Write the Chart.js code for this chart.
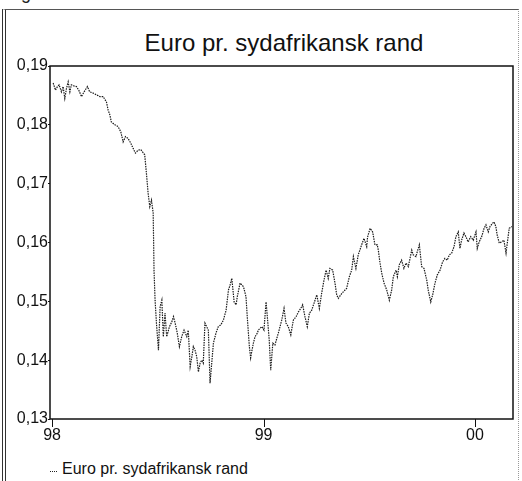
<!DOCTYPE html>
<html>
<head>
<meta charset="utf-8">
<script src="https://cdn.jsdelivr.net/npm/chart.js@4.4.1/dist/chart.umd.min.js"></script>
<style>
  html, body { margin: 0; padding: 0; background: #fff; }
  body { width: 522px; height: 481px; position: relative; overflow: hidden; font-family: "Liberation Sans", Arial, sans-serif; }
  #frame { position: absolute; left: 2px; top: 9px; width: 512px; height: 480px;
           border-left: 4px double #333; border-top: 1px solid #555; border-right: 1px dotted #999; }
  #cut { position: absolute; left: 21px; top: -17px; font-size: 18px; color: #222; }
  #title { position: absolute; left: 0; width: 568px; top: 29px; text-align: center; font-size: 24px; color: #111; }
  #legend { position: absolute; left: 50px; top: 460px; font-size: 16px; color: #111; }
  #legend .mark { display: inline-block; width: 7px; border-top: 1px dotted #222; vertical-align: middle; margin-right: 5px; position: relative; top: 2px; }
  canvas { position: absolute; left: 0; top: 0; }
</style>
</head>
<body>
<div id="frame"></div>
<div id="cut">g</div>
<div id="title">Euro pr. sydafrikansk rand</div>
<div id="legend"><span class="mark"></span>Euro pr. sydafrikansk rand</div>
<canvas id="chart" width="522" height="481"></canvas>
<script>
// dates as decimal years (98 = 1998)
const dates = [
  1998.005, 1998.016, 1998.025, 1998.033, 1998.044, 1998.052, 1998.060, 1998.068, 1998.076, 1998.084,
  1998.091, 1998.104, 1998.115, 1998.126, 1998.139, 1998.151, 1998.167, 1998.178, 1998.194, 1998.210,
  1998.226, 1998.241, 1998.257, 1998.265, 1998.273, 1998.280, 1998.297, 1998.312, 1998.325, 1998.336,
  1998.347, 1998.359, 1998.372, 1998.383, 1998.394, 1998.407, 1998.419, 1998.438, 1998.446, 1998.454,
  1998.462, 1998.470, 1998.478, 1998.480, 1998.482, 1998.487, 1998.494, 1998.503, 1998.511, 1998.519,
  1998.526, 1998.534, 1998.542, 1998.555, 1998.566, 1998.574, 1998.582, 1998.592, 1998.602, 1998.613,
  1998.624, 1998.637, 1998.644, 1998.653, 1998.661, 1998.668, 1998.676, 1998.684, 1998.692, 1998.700,
  1998.708, 1998.715, 1998.723, 1998.731, 1998.739, 1998.747, 1998.755, 1998.763, 1998.775, 1998.786,
  1998.798, 1998.810, 1998.823, 1998.834, 1998.842, 1998.850, 1998.861, 1998.870, 1998.876, 1998.889,
  1998.905, 1998.917, 1998.923, 1998.933, 1998.939, 1998.944, 1998.952, 1998.960, 1998.971, 1998.975,
  1998.992, 1999.002, 1999.012, 1999.018, 1999.027, 1999.034, 1999.044, 1999.054, 1999.070, 1999.086,
  1999.097, 1999.106, 1999.117, 1999.129, 1999.141, 1999.154, 1999.165, 1999.176, 1999.185, 1999.196,
  1999.207, 1999.217, 1999.228, 1999.239, 1999.252, 1999.264, 1999.275, 1999.286, 1999.296, 1999.306,
  1999.314, 1999.327, 1999.338, 1999.346, 1999.354, 1999.365, 1999.377, 1999.393, 1999.406, 1999.417,
  1999.425, 1999.437, 1999.448, 1999.464, 1999.475, 1999.488, 1999.492, 1999.504, 1999.516, 1999.527,
  1999.538, 1999.543, 1999.551, 1999.559, 1999.570, 1999.583, 1999.595, 1999.606, 1999.614, 1999.627,
  1999.633, 1999.642, 1999.653, 1999.664, 1999.674, 1999.685, 1999.693, 1999.701, 1999.708, 1999.721,
  1999.727, 1999.737, 1999.748, 1999.759, 1999.772, 1999.779, 1999.791, 1999.800, 1999.811, 1999.822,
  1999.835, 1999.847, 1999.858, 1999.869, 1999.879, 1999.890, 1999.901, 1999.910, 1999.921, 1999.929,
  1999.937, 1999.948, 1999.957, 1999.968, 1999.980, 1999.992, 2000.005, 2000.011, 2000.020, 2000.032,
  2000.043, 2000.052, 2000.063, 2000.071, 2000.084, 2000.090, 2000.099, 2000.105, 2000.115, 2000.126,
  2000.137, 2000.147, 2000.153, 2000.162, 2000.174
];
const rates = [
  0.1871, 0.1859, 0.1865, 0.1868, 0.1856, 0.1865, 0.1845, 0.1862, 0.1873, 0.1856,
  0.1868, 0.1866, 0.1865, 0.1859, 0.1848, 0.1856, 0.1865, 0.1856, 0.1854, 0.1851,
  0.1848, 0.1848, 0.1839, 0.1825, 0.1817, 0.1805, 0.1800, 0.1797, 0.1788, 0.1771,
  0.1780, 0.1777, 0.1769, 0.1760, 0.1752, 0.1757, 0.1758, 0.1749, 0.1718, 0.1684,
  0.1661, 0.1672, 0.1650, 0.1604, 0.1553, 0.1502, 0.1460, 0.1417, 0.1491, 0.1502,
  0.1440, 0.1480, 0.1440, 0.1457, 0.1465, 0.1474, 0.1463, 0.1446, 0.1423, 0.1440,
  0.1451, 0.1440, 0.1451, 0.1389, 0.1406, 0.1423, 0.1417, 0.1406, 0.1380, 0.1395,
  0.1400, 0.1395, 0.1463, 0.1457, 0.1451, 0.1361, 0.1395, 0.1429, 0.1446, 0.1457,
  0.1460, 0.1468, 0.1485, 0.1519, 0.1528, 0.1539, 0.1499, 0.1494, 0.1508, 0.1531,
  0.1525, 0.1508, 0.1474, 0.1423, 0.1404, 0.1414, 0.1429, 0.1440, 0.1446, 0.1451,
  0.1457, 0.1451, 0.1499, 0.1474, 0.1434, 0.1383, 0.1429, 0.1426, 0.1446, 0.1468,
  0.1488, 0.1463, 0.1457, 0.1443, 0.1468, 0.1474, 0.1482, 0.1488, 0.1494, 0.1474,
  0.1457, 0.1480, 0.1485, 0.1497, 0.1511, 0.1488, 0.1514, 0.1536, 0.1553, 0.1539,
  0.1556, 0.1553, 0.1531, 0.1511, 0.1505, 0.1511, 0.1516, 0.1522, 0.1542, 0.1553,
  0.1576, 0.1556, 0.1579, 0.1596, 0.1607, 0.1593, 0.1609, 0.1624, 0.1618, 0.1596,
  0.1596, 0.1587, 0.1565, 0.1548, 0.1531, 0.1519, 0.1502, 0.1519, 0.1542, 0.1553,
  0.1542, 0.1562, 0.1570, 0.1556, 0.1565, 0.1559, 0.1573, 0.1587, 0.1579, 0.1576,
  0.1584, 0.1596, 0.1559, 0.1556, 0.1536, 0.1519, 0.1499, 0.1511, 0.1531, 0.1545,
  0.1553, 0.1567, 0.1573, 0.1570, 0.1579, 0.1582, 0.1593, 0.1610, 0.1618, 0.1590,
  0.1604, 0.1616, 0.1610, 0.1601, 0.1610, 0.1604, 0.1618, 0.1590, 0.1601, 0.1610,
  0.1624, 0.1630, 0.1618, 0.1627, 0.1633, 0.1635, 0.1627, 0.1613, 0.1599, 0.1601,
  0.1604, 0.1582, 0.1599, 0.1624, 0.1627
];
const yearTicks = [1998, 1999, 2000];
const rateTicks = [0.13, 0.14, 0.15, 0.16, 0.17, 0.18, 0.19];
const xMin = 1997.99;
const xMax = 2000.18;

const points = dates.map((d, i) => ({ x: d, y: rates[i] }));

// box around the plot and short ticks hanging below the time axis
const frameBox = {
  id: "frameBox",
  afterDraw(chart) {
    const { ctx, chartArea } = chart;
    const xs = chart.scales.x;
    ctx.save();
    ctx.strokeStyle = "#111";
    ctx.lineWidth = 1.5;
    ctx.strokeRect(chartArea.left, chartArea.top, chartArea.right - chartArea.left, chartArea.bottom - chartArea.top);
    ctx.lineWidth = 1;
    yearTicks.forEach(t => {
      const px = Math.round(xs.getPixelForValue(t)) + 0.5;
      ctx.beginPath();
      ctx.moveTo(px, chartArea.bottom);
      ctx.lineTo(px, chartArea.bottom + 8);
      ctx.stroke();
    });
    ctx.restore();
  }
};

Chart.defaults.font.family = "'Liberation Sans', Arial, sans-serif";
Chart.defaults.color = "#111";

new Chart(document.getElementById("chart").getContext("2d"), {
  type: "line",
  data: {
    datasets: [{
      label: "Euro pr. sydafrikansk rand",
      data: points,
      borderColor: "#1a1a1a",
      borderWidth: 1.2,
      borderDash: [1.5, 1],
      pointRadius: 0,
      tension: 0,
      fill: false
    }]
  },
  options: {
    responsive: false,
    animation: false,
    layout: { padding: { top: 66, right: 9, left: 0, bottom: 0 } },
    plugins: {
      legend: { display: false },
      title: { display: false },
      tooltip: { enabled: false }
    },
    scales: {
      x: {
        type: "linear",
        min: xMin,
        max: xMax,
        afterBuildTicks: (axis) => { axis.ticks = yearTicks.map(v => ({ value: v })); },
        afterFit: (axis) => { axis.height = 62; },
        grid: { display: false },
        border: { display: false },
        ticks: {
          font: { size: 16 },
          padding: -1,
          maxRotation: 0,
          callback: (v) => String(v).slice(2)
        }
      },
      y: {
        min: 0.13,
        max: 0.19,
        afterBuildTicks: (axis) => { axis.ticks = rateTicks.map(v => ({ value: v })); },
        afterFit: (axis) => { axis.width = 50; },
        grid: { drawOnChartArea: false, drawTicks: true, tickLength: 2, color: "#111" },
        border: { display: false },
        ticks: {
          font: { size: 16 },
          padding: 0,
          callback: (v) => v.toFixed(2).replace(".", ",")
        }
      }
    }
  },
  plugins: [frameBox]
});
</script>
</body>
</html>
